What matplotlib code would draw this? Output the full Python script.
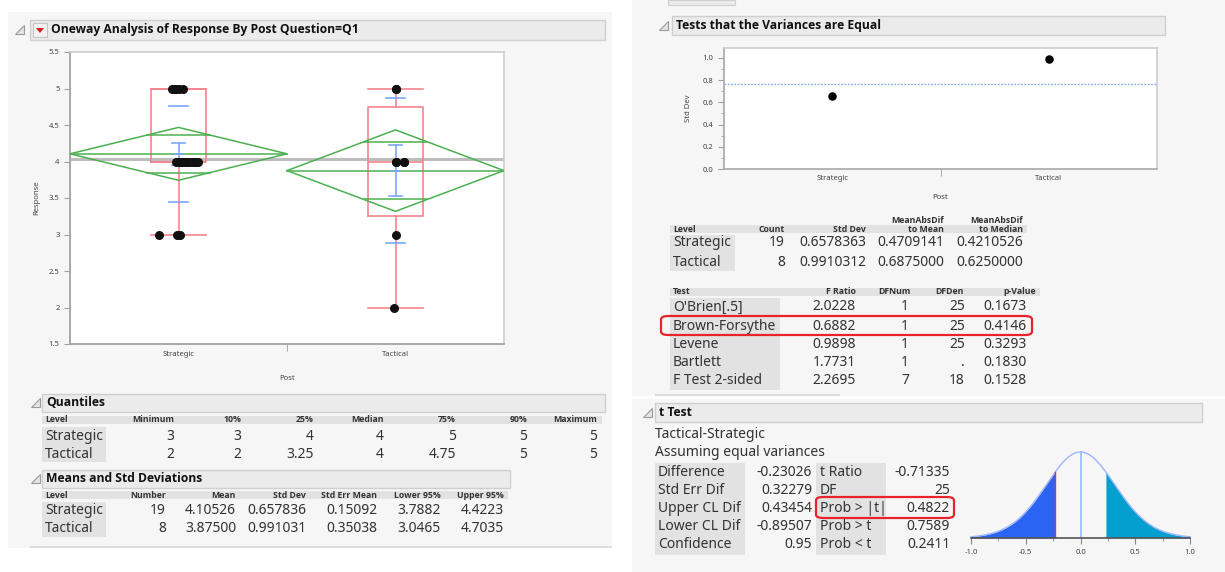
import math
import numpy as np
import matplotlib
matplotlib.use("Agg")
import matplotlib.pyplot as plt
from matplotlib.patches import Rectangle, Polygon, FancyBboxPatch

plt.rcParams['font.family'] = ['Noto Sans', 'DejaVu Sans']
BOLD_FAM = ['Open Sans', 'Lato', 'DejaVu Sans']

W, H = 1225, 572

# ---- oneway data ----
categories = ["Strategic", "Tactical"]
strat_resp = [5, 5, 5, 5, 5, 4, 4, 4, 4, 4, 4, 4, 4, 4, 4, 4, 3, 3, 3]
strat_jit = [-0.03, -0.02, -0.01, 0.0, 0.02, -0.01, 0.0, 0.01, 0.02, 0.03,
             0.04, 0.05, 0.06, 0.07, 0.08, 0.09, -0.09, -0.005, 0.005]
tact_resp = [5, 5, 4, 4, 4, 4, 3, 2]
tact_jit = [0.0, 0.0, 0.0, 0.0, 0.04, 0.04, 0.0, -0.005]

means = [4.10526, 3.875]
sds = [0.657836, 0.991031]
sems = [0.15092, 0.35038]
diamond_lo = [3.743, 3.317]
diamond_hi = [4.467, 4.433]
overlap_lo = [3.849, 3.480]
overlap_hi = [4.361, 4.270]
q1 = [4, 3.25]
med = [4, 4]
q3 = [5, 4.75]
whis_lo = [3, 2]
whis_hi = [5, 5]
grand_mean = 4.037

# ---- tables ----
quant_cols = ["Minimum", "10%", "25%", "Median", "75%", "90%", "Maximum"]
quant_rows = [["3", "3", "4", "4", "5", "5", "5"],
              ["2", "2", "3.25", "4", "4.75", "5", "5"]]
means_cols = ["Number", "Mean", "Std Dev", "Std Err Mean", "Lower 95%", "Upper 95%"]
means_rows = [["19", "4.10526", "0.657836", "0.15092", "3.7882", "4.4223"],
              ["8", "3.87500", "0.991031", "0.35038", "3.0465", "4.7035"]]

var_sd = [0.6578363, 0.9910312]
pooled_sd = 0.766
var_cols = ["Count", "Std Dev", "MeanAbsDif\nto Mean", "MeanAbsDif\nto Median"]
var_rows = [["19", "0.6578363", "0.4709141", "0.4210526"],
            ["8", "0.9910312", "0.6875000", "0.6250000"]]
test_names = ["O'Brien[.5]", "Brown-Forsythe", "Levene", "Bartlett", "F Test 2-sided"]
test_cols = ["F Ratio", "DFNum", "DFDen", "p-Value"]
test_rows = [["2.0228", "1", "25", "0.1673"],
             ["0.6882", "1", "25", "0.4146"],
             ["0.9898", "1", "25", "0.3293"],
             ["1.7731", "1", ".", "0.1830"],
             ["2.2695", "7", "18", "0.1528"]]

tt_left = ["Difference", "Std Err Dif", "Upper CL Dif", "Lower CL Dif", "Confidence"]
tt_left_vals = ["-0.23026", "0.32279", "0.43454", "-0.89507", "0.95"]
tt_right = ["t Ratio", "DF", "Prob > |t|", "Prob > t", "Prob < t"]
tt_right_vals = ["-0.71335", "25", "0.4822", "0.7589", "0.2411"]
t_diff = -0.23026
t_se = 0.32279
t_df = 25

BG = '#f6f6f6'
BAR = '#ebebeb'
CELL = '#e2e2e2'
TXT = '#333333'
RED = '#f4858f'
BLUE = '#7da7f7'
GREEN = '#4cb050'
HSZ = 6.3   # table column header size

fig = plt.figure(figsize=(W / 100, H / 100), dpi=100)
fig.patch.set_facecolor('white')


def rect(x0, y0, x1, y1, fc, ec='none', lw=0.8, z=0):
    r = Rectangle((x0 / W, 1 - y1 / H), (x1 - x0) / W, (y1 - y0) / H,
                  transform=fig.transFigure, facecolor=fc, edgecolor=ec,
                  linewidth=lw, zorder=z)
    fig.add_artist(r)


def txt(x, y, s, ha='left', size=10, weight='normal', color=TXT, **kw):
    if weight == 'bold':
        kw.setdefault('family', BOLD_FAM)
    fig.text(x / W, 1 - y / H, s, ha=ha, va='center', fontsize=size,
             fontweight=weight, color=color, **kw)


def tri(x, y):
    pts = [((x - 5) / W, 1 - (y + 4) / H), ((x + 4) / W, 1 - (y + 4) / H),
           ((x + 4) / W, 1 - (y - 5) / H)]
    fig.add_artist(Polygon(pts, closed=True, transform=fig.transFigure,
                           facecolor='#e4e4e4', edgecolor='#9a9a9a', lw=0.8))


def header(x0, x1, y0, y1, title, tx, title_x=None, size=8.7):
    rect(x0, y0, x1, y1, BAR, '#cfcfcf', 1.0)
    tri(tx, (y0 + y1) / 2)
    if title_x is None:
        title_x = x0 + 4
    txt(title_x, (y0 + y1) / 2, title, size=size, weight='bold', color='#111111')


def red_box(x0, y0, x1, y1):
    b = FancyBboxPatch((x0 / W, 1 - y1 / H), (x1 - x0) / W, (y1 - y0) / H,
                       boxstyle='round,pad=0,rounding_size=0.006',
                       transform=fig.transFigure, facecolor='none',
                       edgecolor='#e8232b', lw=1.6, zorder=5)
    fig.add_artist(b)


def new_ax(x0, y0, x1, y1):
    return fig.add_axes([x0 / W, 1 - y1 / H, (x1 - x0) / W, (y1 - y0) / H])


# panels
rect(8, 12, 612, 548, BG)
rect(632, 0, 1225, 396, BG)
rect(632, 399, 1225, 572, BG)
rect(668, 0, 735, 5, BAR, '#cfcfcf')

# ---------- oneway ----------
header(30, 605, 20, 40, "Oneway Analysis of Response By Post Question=Q1", 20, title_x=51)
rect(33, 23, 47, 37, '#f2f2f2', '#c4c4c4', 0.8)
fig.add_artist(Polygon([(36 / W, 1 - 28 / H), (44 / W, 1 - 28 / H), (40 / W, 1 - 33 / H)],
                       transform=fig.transFigure, facecolor='#d81e1e', edgecolor='none'))
ax = new_ax(70, 52, 504, 344)
ax.set_facecolor('white')
ax.set_xlim(0.5, 2.5)
ax.set_ylim(1.5, 5.5)
ax.axhline(grand_mean, color='#bdbdbd', lw=2.2, zorder=1)

stats = []
for i in range(2):
    stats.append(dict(med=med[i], q1=q1[i], q3=q3[i], whislo=whis_lo[i], whishi=whis_hi[i]))
ax.bxp(stats, positions=[1, 2], widths=0.25, capwidths=[0.25, 0.25], showfliers=False,
       manage_ticks=False,
       boxprops=dict(color=RED, lw=1.2), whiskerprops=dict(color=RED, lw=1.2),
       capprops=dict(color=RED, lw=1.2), medianprops=dict(color=RED, lw=1.2))

for i, xc in enumerate([1, 2]):
    m = means[i]
    ax.plot([xc - 0.5, xc, xc + 0.5, xc, xc - 0.5],
            [m, diamond_hi[i], m, diamond_lo[i], m], color=GREEN, lw=1.1, zorder=3)
    ax.plot([xc - 0.5, xc + 0.5], [m, m], color=GREEN, lw=1.1, zorder=3)
    for yv in (overlap_lo[i], overlap_hi[i]):
        frac = abs(yv - m) / (diamond_hi[i] - m)
        hw = 0.5 * (1 - frac)
        ax.plot([xc - hw, xc + hw], [yv, yv], color=GREEN, lw=1.1, zorder=3)
    # std dev lines and error bars
    for yv in (m - sds[i], m + sds[i]):
        ax.plot([xc - 0.045, xc + 0.045], [yv, yv], color=BLUE, lw=1.2, zorder=4)
    ax.plot([xc, xc], [m - sems[i], m + sems[i]], color=BLUE, lw=1.2, zorder=4)
    for yv in (m - sems[i], m + sems[i]):
        ax.plot([xc - 0.03, xc + 0.03], [yv, yv], color=BLUE, lw=1.2, zorder=4)
    ax.plot([xc - 0.02, xc + 0.02], [m, m], color=BLUE, lw=1.2, zorder=4)

ax.scatter([1 + j for j in strat_jit], strat_resp, s=30, color='#111111', zorder=6)
ax.scatter([2 + j for j in tact_jit], tact_resp, s=30, color='#111111', zorder=6)

yt = [1.5, 2, 2.5, 3, 3.5, 4, 4.5, 5, 5.5]
ax.set_yticks(yt)
ax.set_yticklabels([("%g" % v) for v in yt])
ax.set_xticks([1, 2])
ax.set_xticklabels(categories)
ax.set_xticks([1.5], minor=True)
ax.tick_params(axis='x', which='major', length=0, labelsize=5.5, pad=5, colors='#444444')
ax.tick_params(axis='x', which='minor', length=5, color='#a0a0a0')
ax.tick_params(axis='y', length=4, labelsize=5.5, color='#a0a0a0', labelcolor='#444444')
ax.set_ylabel("Response", fontsize=5.5, color='#444444', labelpad=6)
ax.set_xlabel("Post", fontsize=5.5, color='#444444', labelpad=12)
for s in ('left', 'bottom'):
    ax.spines[s].set_color('#a8a8a8')
    ax.spines[s].set_linewidth(1.4)
for s in ('top', 'right'):
    ax.spines[s].set_color('#cccccc')
    ax.spines[s].set_linewidth(1.2)

# ---------- quantiles ----------
header(42, 605, 394, 412, "Quantiles", 36)
rect(42, 416, 602, 424, CELL)
rect(42, 427, 106, 462, CELL)
txt(45, 420, "Level", size=HSZ, weight='bold')
q_ends = [174, 241, 314, 384, 456, 527, 597]
for c, xe in zip(quant_cols, q_ends):
    txt(xe, 420, c, ha='right', size=HSZ, weight='bold')
for r, yv in enumerate([436, 454]):
    txt(45, yv, categories[r], size=10)
    for v, xe in zip(quant_rows[r], q_ends):
        txt(xe, yv, v, ha='right', size=10)

# ---------- means ----------
header(42, 510, 470, 488, "Means and Std Deviations", 36)
rect(42, 491, 508, 499, CELL)
rect(42, 502, 106, 537, CELL)
txt(45, 495, "Level", size=HSZ, weight='bold')
m_ends = [166, 236, 306, 377, 441, 504]
for c, xe in zip(means_cols, m_ends):
    txt(xe, 495, c, ha='right', size=HSZ, weight='bold')
for r, yv in enumerate([511, 529]):
    txt(45, yv, categories[r], size=10)
    for v, xe in zip(means_rows[r], m_ends):
        txt(xe, yv, v, ha='right', size=10)
rect(30, 546, 612, 548, '#dddddd')

# ---------- variances ----------
header(672, 1165, 16, 35, "Tests that the Variances are Equal", 664)
vax = new_ax(724, 48, 1157, 169)
vax.set_facecolor('white')
vax.set_xlim(0.5, 2.5)
vax.set_ylim(0, 1.09)
vax.axhline(pooled_sd, color=BLUE, lw=1.0, ls=(0, (1.2, 1.2)))
vax.scatter([1, 2], var_sd, s=26, color='black', zorder=5)
vax.set_yticks([0, 0.2, 0.4, 0.6, 0.8, 1.0])
vax.set_yticklabels(["0.0", "0.2", "0.4", "0.6", "0.8", "1.0"])
vax.set_yticks(np.arange(0.1, 1.01, 0.2), minor=True)
vax.set_xticks([1, 2])
vax.set_xticklabels(categories)
vax.set_xticks([1.5], minor=True)
vax.tick_params(axis='x', which='major', length=0, labelsize=5.5, pad=4, colors='#444444')
vax.tick_params(axis='x', which='minor', length=5, color='#a0a0a0')
vax.tick_params(axis='y', which='major', length=4, labelsize=5.5, color='#a0a0a0', labelcolor='#444444')
vax.tick_params(axis='y', which='minor', length=2.5, color='#a0a0a0')
vax.set_ylabel("Std Dev", fontsize=5.5, color='#444444', labelpad=8)
vax.set_xlabel("Post", fontsize=5.5, color='#444444', labelpad=9)
for s in ('left', 'bottom'):
    vax.spines[s].set_color('#a8a8a8')
    vax.spines[s].set_linewidth(1.2)
for s in ('top', 'right'):
    vax.spines[s].set_color('#cccccc')
    vax.spines[s].set_linewidth(1.2)

# variance table
rect(670, 225, 1027, 233, CELL)
rect(670, 235, 735, 271, CELL)
txt(673, 229, "Level", size=HSZ, weight='bold')
v_ends = [785, 866, 944, 1023]
for c, xe in zip(var_cols, v_ends):
    fig.text(xe / W, 1 - 234 / H, c, ha='right', va='bottom', fontsize=HSZ,
             fontweight='bold', family=BOLD_FAM, color=TXT, linespacing=0.95)
for r, yv in enumerate([243, 262]):
    txt(673, yv, categories[r], size=10)
    for v, xe in zip(var_rows[r], v_ends):
        txt(xe, yv, v, ha='right', size=10)

rect(670, 288, 1040, 296, CELL)
rect(670, 298, 780, 390, CELL)
txt(673, 292, "Test", size=HSZ, weight='bold')
th_ends = [856, 911, 964, 1036]
t_ends = [856, 909, 965, 1027]
for c, xe in zip(test_cols, th_ends):
    txt(xe, 292, c, ha='right', size=HSZ, weight='bold')
for r, yv in enumerate([307, 326, 344, 362, 380]):
    txt(673, yv, test_names[r], size=10)
    for v, xe in zip(test_rows[r], t_ends):
        txt(xe, yv, v, ha='right', size=10)
red_box(661, 316, 1032, 335)
rect(655, 394, 840, 396, '#dddddd')

# ---------- t test ----------
header(655, 1202, 403, 422, "t Test", 648)
txt(655, 434, "Tactical-Strategic", size=10)
txt(655, 453, "Assuming equal variances", size=10)
rect(655, 463, 745, 555, CELL)
rect(816, 463, 886, 555, CELL)
for r, yv in enumerate([472, 490, 509, 527, 545]):
    txt(658, yv, tt_left[r], size=10)
    txt(812, yv, tt_left_vals[r], ha='right', size=10)
    txt(820, yv, tt_right[r], size=10)
    txt(950, yv, tt_right_vals[r], ha='right', size=10)
red_box(816, 497, 954, 518)

dax = new_ax(971, 452, 1190, 538)
dax.set_facecolor('none')
xs = np.linspace(-1, 1, 600)
cst = math.gamma((t_df + 1) / 2) / (math.sqrt(t_df * math.pi) * math.gamma(t_df / 2))
dens = cst * (1 + (xs / t_se) ** 2 / t_df) ** (-(t_df + 1) / 2)
dax.fill_between(xs, 0, dens, where=xs <= t_diff, color='#2b63f5', lw=0)
dax.fill_between(xs, 0, dens, where=xs >= -t_diff, color='#039fcf', lw=0)
dax.plot(xs, dens, color='#9ab6fb', lw=1.0, clip_on=False)
dax.plot([0, 0], [0, cst], color='#9ab6fb', lw=1.2, clip_on=False)
dax.plot([t_diff, t_diff], [0, cst * (1 + (t_diff / t_se) ** 2 / t_df) ** (-(t_df + 1) / 2)],
         color='#e8303a', lw=1.0)
dax.set_xlim(-1, 1)
dax.set_ylim(0, cst * 1.0)
for s in ('left', 'top', 'right'):
    dax.spines[s].set_visible(False)
dax.spines['bottom'].set_color('#555555')
dax.spines['bottom'].set_linewidth(1.2)
dax.set_yticks([])
dax.set_xticks([-1, -0.5, 0, 0.5, 1])
dax.set_xticklabels(["-1.0", "-0.5", "0.0", "0.5", "1.0"])
dax.set_xticks([-0.75, -0.25, 0.25, 0.75], minor=True)
dax.tick_params(axis='x', which='major', length=4, labelsize=5.5, color='#888888', labelcolor='#444444', pad=4)
dax.tick_params(axis='x', which='minor', length=2.5, color='#888888')

fig.savefig("out.png", dpi=100, facecolor='white')
